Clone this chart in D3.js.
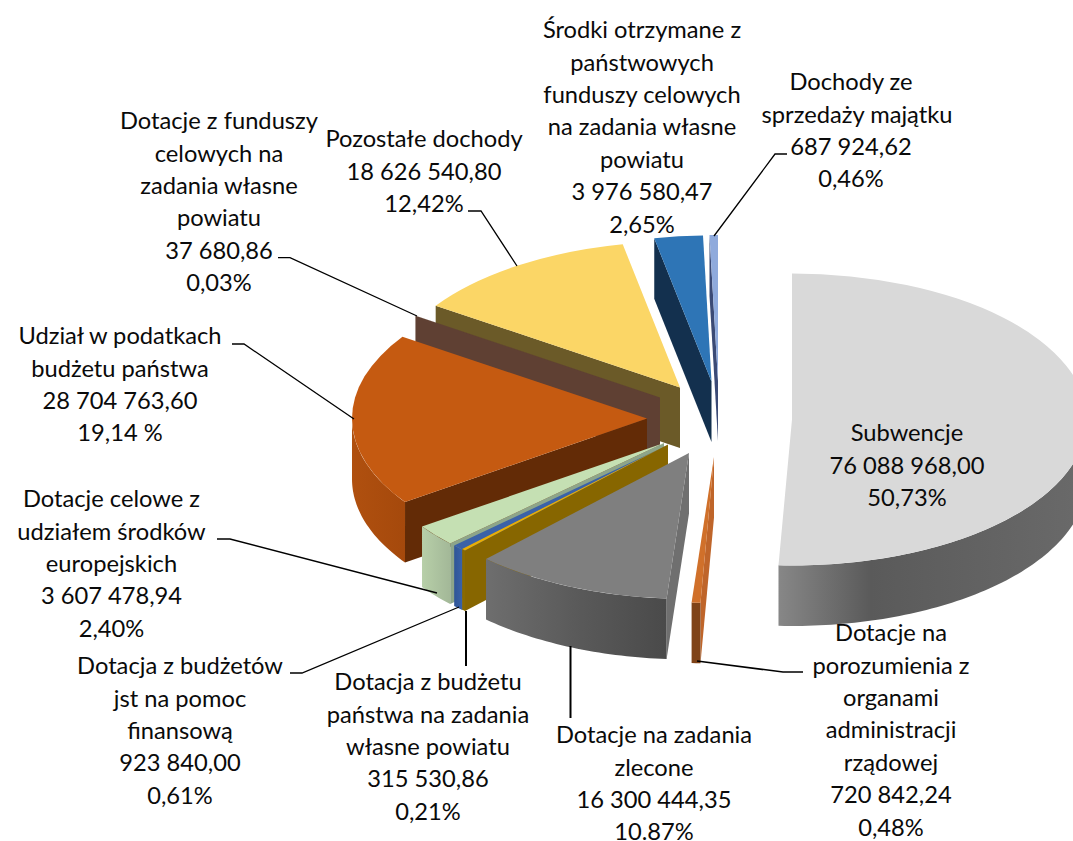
<!DOCTYPE html>
<html><head><meta charset="utf-8">
<style>html,body{margin:0;padding:0;background:#fff;overflow:hidden}svg{display:block}text{font-family:Lato,"Open Sans",sans-serif;font-size:23.7px;fill:#0a0a0a;text-anchor:middle}</style>
<script src="https://cdn.jsdelivr.net/npm/d3@7"></script>
</head><body><svg id="c" width="1073" height="841"></svg>
<script>
// DATA
const categories = ["Subwencje","Dotacje na porozumienia z organami administracji rządowej","Dotacje na zadania zlecone","Dotacja z budżetu państwa na zadania własne powiatu","Dotacja z budżetów jst na pomoc finansową","Dotacje celowe z udziałem środków europejskich","Udział w podatkach budżetu państwa","Dotacje z funduszy celowych na zadania własne powiatu","Pozostałe dochody","Środki otrzymane z państwowych funduszy celowych na zadania własne powiatu","Dochody ze sprzedaży majątku"];
const values = [76088968.00,720842.24,16300444.35,315530.86,923840.00,3607478.94,28704763.60,37680.86,18626540.80,3976580.47,687924.62];
const valueLabels = ["76 088 968,00","720 842,24","16 300 444,35","315 530,86","923 840,00","3 607 478,94","28 704 763,60","37 680,86","18 626 540,80","3 976 580,47","687 924,62"];
const percentLabels = ["50,73%","0,48%","10.87%","0,21%","0,61%","2,40%","19,14 %","0,03%","12,42%","2,65%","0,46%"];
const nameLines = [["Subwencje"],["Dotacje na","porozumienia z","organami","administracji","rządowej"],["Dotacje na zadania","zlecone"],["Dotacja z budżetu","państwa na zadania","własne powiatu"],["Dotacja z budżetów","jst na pomoc","finansową"],["Dotacje celowe z","udziałem środków","europejskich"],["Udział w podatkach","budżetu państwa"],["Dotacje z funduszy","celowych na","zadania własne","powiatu"],["Pozostałe dochody"],["Środki otrzymane z","państwowych","funduszy celowych","na zadania własne","powiatu"],["Dochody ze","sprzedaży majątku"]];

// LAYOUT (separate from the data)
const W=1073,H=841,RX=295,RY=146,DEPTH=60.5;
const apex=[[792,419.5],[714,457],[689,453],[668,444.5],[668,445],[664,443],[647,418.5],[660,397.5],[680,387.5],[711.5,381.5],[718,381]];
const topColor=["#d9d9d9","#d0702a","#7f7f7f","#e9ae05","#3a62a8","#c5e0b3","#c55a11","#5f4033","#fbd666","#2e75b6","#8faadc"];
const sideColor=["#9a9a9a","#bf652a","#6f6f6f","#876600","#2f4f88","#8da58a","#632b06","#5f4033","#6b5a28","#13304e","#3b4a75"];
const wallStops=[[["0","#878787"],["0.3","#5a5a5a"],["1","#6a6a6a"]],[["0","#7f4318"],["1","#7f4318"]],[["0","#6e6e6e"],["0.5","#5a5a5a"],["1","#4a4a4a"]],[["0","#8a6a00"],["1","#8a6a00"]],[["0","#2f5597"],["1","#3a62a8"]],[["0","#b7cfa8"],["1","#a3b898"]],[["0","#b0500f"],["1","#a5490c"]],[["0","#5f4033"],["1","#5f4033"]],[["0","#8a7530"],["1","#8a7530"]],[["0","#205a8c"],["1","#205a8c"]],[["0","#6f86b0"],["1","#6f86b0"]]];
const drawOrder=[10,9,0,8,7,6,5,4,3,1,2];
const labelPos=[[907,433],[891,633],[654,735],[428,682],[180,666],[111.5,499],[120,336],[219,121],[424,139],[642,30],[851,82]];
const lineShift={"10:1":6};
const lineStep=32.4;
const leaders=[null,[[803,672],[783,672],[697,661]],[[570.5,718],[570.5,646]],[[466,666],[466,611]],[[290,673],[302,673],[459,607]],[[217,539],[230,539],[437,593]],[[232,344],[244,344],[354,419]],[[278,257.7],[290,257.7],[417,316]],[[468,211],[481,211],[517,266]],null,[[787,154],[775,154],[714,236]]];
const leaderWidth=[0,1.6,2,2,1.3,1.3,1.3,1.3,1.3,0,1.3];

const svg=d3.select("#c");
const arcs=d3.pie().sort(null).value(d=>d)(values);
const defs=svg.append("defs");
wallStops.forEach((st,i)=>{
  const g=defs.append("linearGradient").attr("id","w"+i).attr("x1",0).attr("x2",1).attr("y1",0).attr("y2",0);
  st.forEach(s=>g.append("stop").attr("offset",s[0]).attr("stop-color",s[1]));
});
const arcGen=d3.arc().innerRadius(0).outerRadius(RX);
const line=d3.line();
const rim=(i,a,z=0)=>[apex[i][0]+RX*Math.sin(a),apex[i][1]-RY*Math.cos(a)+z];
const PI=Math.PI;
const gPie=svg.append("g");
drawOrder.forEach(i=>{
  const a=arcs[i],s=a.startAngle,e=a.endAngle,g=gPie.append("g");
  const A=apex[i];
  // visible radial wall
  let radial=null;
  if(s>=PI&&s<2*PI) radial=s; else if(e<=PI) radial=e;
  if(radial!==null){
    const o=rim(i,radial);
    g.append("path").attr("d",line([A,o,[o[0],o[1]+DEPTH],[A[0],A[1]+DEPTH]])+"Z").attr("fill",sideColor[i]);
  }
  // outer wall, the part of the rim facing the viewer
  const lo=Math.max(s,PI/2),hi=Math.min(e,3*PI/2);
  if(hi>lo){
    const n=Math.max(2,Math.ceil((hi-lo)/0.02));
    const ang=d3.range(n+1).map(k=>lo+(hi-lo)*k/n);
    const topEdge=ang.map(t=>rim(i,t)),botEdge=ang.map(t=>rim(i,t,DEPTH)).reverse();
    g.append("path").attr("d",line(topEdge.concat(botEdge))+"Z").attr("fill",`url(#w${i})`);
  }
  // top face
  g.append("path").attr("transform",`translate(${A[0]},${A[1]}) scale(1,${RY/RX})`)
    .attr("d",arcGen({startAngle:s,endAngle:e})).attr("fill",topColor[i]);
});
// leaders
leaders.forEach((l,i)=>{ if(l) svg.append("path").attr("d",line(l)).attr("fill","none").attr("stroke","#000").attr("stroke-width",leaderWidth[i]); });
// labels
categories.forEach((c,i)=>{
  const t=svg.append("text").attr("aria-label",c);
  const lines=nameLines[i].concat([valueLabels[i],percentLabels[i]]);
  lines.forEach((ln,k)=>t.append("tspan").attr("x",labelPos[i][0]+(lineShift[i+":"+k]||0)).attr("y",labelPos[i][1]+k*lineStep).attr("dy","0.35em").text(ln));
});
</script></body></html>
